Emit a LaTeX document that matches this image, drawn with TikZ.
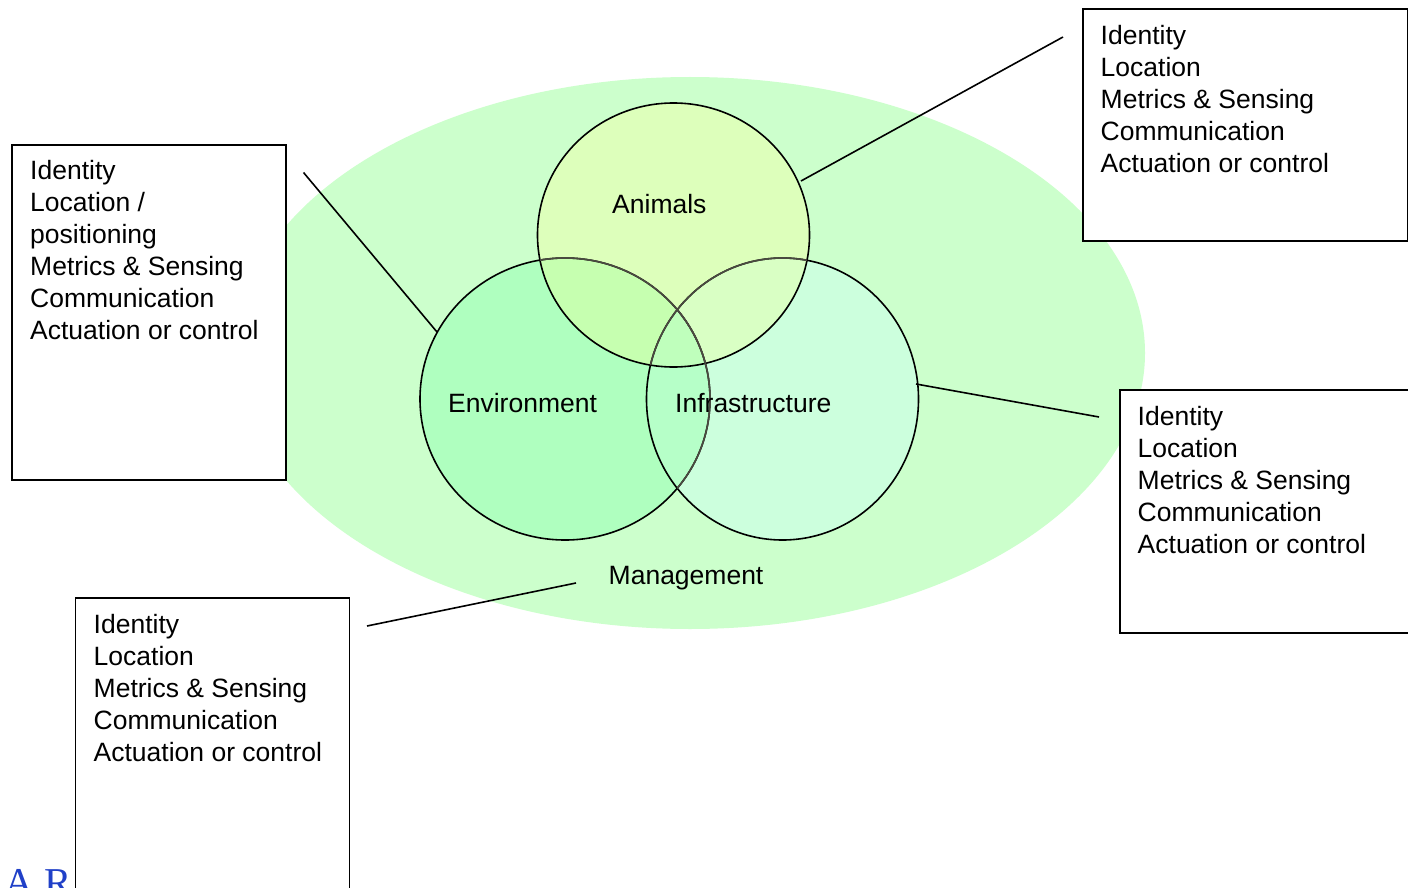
\documentclass[tikz,border=0pt]{standalone}
\usepackage{fontspec}
\setmainfont{Liberation Sans}
\newfontfamily\logofont{Liberation Serif}
\definecolor{mgmt}{HTML}{CCFFCC}
\definecolor{anim}{HTML}{DDFFBB}
\definecolor{env}{HTML}{AFFFBF}
\definecolor{infra}{HTML}{CCFFDD}
\definecolor{ae}{HTML}{C6FFB0}
\definecolor{ai}{HTML}{D9FFC4}
\definecolor{ei}{HTML}{B6FFC8}
\definecolor{aei}{HTML}{BFFFBC}
\definecolor{softline}{HTML}{4A4A40}
\definecolor{logoblue}{HTML}{2040C8}
\begin{document}
\begin{tikzpicture}[x=1pt,y=-1pt,
  boxst/.style={draw=black, line width=1.8pt, fill=white, anchor=north west, inner sep=0pt},
  listst/.style={anchor=north west, align=left, inner sep=0pt, font=\fontsize{26.5}{32}\selectfont},
  lbl/.style={anchor=base west, inner sep=0pt, font=\fontsize{26.5}{32}\selectfont},
  link/.style={draw=black, line width=1.6pt},
  ring/.style={line width=1.6pt}]
\useasboundingbox (0,0) rectangle (1408,888);
\fill[white] (0,0) rectangle (1408,888);
% management ellipse
\fill[mgmt] (690,353) ellipse [x radius=455, y radius=276];
% circle fills
\fill[anim] (673.5,235) ellipse [x radius=136, y radius=132];
\fill[env] (565,399) ellipse [x radius=145, y radius=141];
\fill[infra] (782.5,399) ellipse [x radius=136, y radius=141];
\begin{scope}
  \clip (673.5,235) ellipse [x radius=136, y radius=132];
  \fill[ae] (565,399) ellipse [x radius=145, y radius=141];
  \fill[ai] (782.5,399) ellipse [x radius=136, y radius=141];
\end{scope}
\begin{scope}
  \clip (565,399) ellipse [x radius=145, y radius=141];
  \fill[ei] (782.5,399) ellipse [x radius=136, y radius=141];
\end{scope}
\begin{scope}
  \clip (673.5,235) ellipse [x radius=136, y radius=132];
  \clip (565,399) ellipse [x radius=145, y radius=141];
  \fill[aei] (782.5,399) ellipse [x radius=136, y radius=141];
\end{scope}
% outlines
\draw[ring] (565,399) ellipse [x radius=145, y radius=141];
\draw[ring] (782.5,399) ellipse [x radius=136, y radius=141];
\draw[ring] (673.5,235) ellipse [x radius=136, y radius=132];
\begin{scope}
  \clip (673.5,235) ellipse [x radius=136, y radius=132];
  \draw[ring, softline] (565,399) ellipse [x radius=145, y radius=141];
  \draw[ring, softline] (782.5,399) ellipse [x radius=136, y radius=141];
\end{scope}
\begin{scope}
  \clip (782.5,399) ellipse [x radius=136, y radius=141];
  \draw[ring, softline] (565,399) ellipse [x radius=145, y radius=141];
\end{scope}
% labels
\node[lbl] (animals) at (612,213) {Animals};
\node[lbl] (environment) at (448,412) {Environment};
\node[lbl] (infrastructure) at (675,412) {Infrastructure};
\node[lbl] (management) at (608.5,584) {Management};
% logo fragment
\node[anchor=base west, inner sep=0pt, text=logoblue, font=\logofont\fontsize{41}{41}\selectfont] (logo) at (4,896) {A R};
% boxes
\node[boxst, minimum width=325pt, minimum height=232pt] (boxTR) at (1082,8) {};
\node[boxst, minimum width=274pt, minimum height=335pt] (boxL) at (11,144) {};
\node[boxst, minimum width=310pt, minimum height=243pt] (boxR) at (1119,389) {};
\node[boxst, minimum width=274pt, minimum height=320pt] (boxB) at (74.5,597) {};
% box texts
\node[listst] (txtTR) at (1100.5,25.3) {Identity\\Location\\Metrics \& Sensing\\Communication\\Actuation or control};
\node[listst] (txtL) at (30,160.5) {Identity\\Location /\\positioning\\Metrics \& Sensing\\Communication\\Actuation or control};
\node[listst] (txtR) at (1137.5,406.2) {Identity\\Location\\Metrics \& Sensing\\Communication\\Actuation or control};
\node[listst] (txtB) at (93.5,614.5) {Identity\\Location\\Metrics \& Sensing\\Communication\\Actuation or control};
% connector ends
\coordinate (lA) at (303.5,172.5);
\coordinate (lB) at (437,332);
\coordinate (trA) at (1063,37);
\coordinate (trB) at (801,181);
\coordinate (rA) at (916,384);
\coordinate (rB) at (1099,417);
\coordinate (bA) at (367,626);
\coordinate (bB) at (576,583);
\draw[link] (lA) -- (lB);
\draw[link] (trA) -- (trB);
\draw[link] (rA) -- (rB);
\draw[link] (bA) -- (bB);
\end{tikzpicture}
\end{document}
